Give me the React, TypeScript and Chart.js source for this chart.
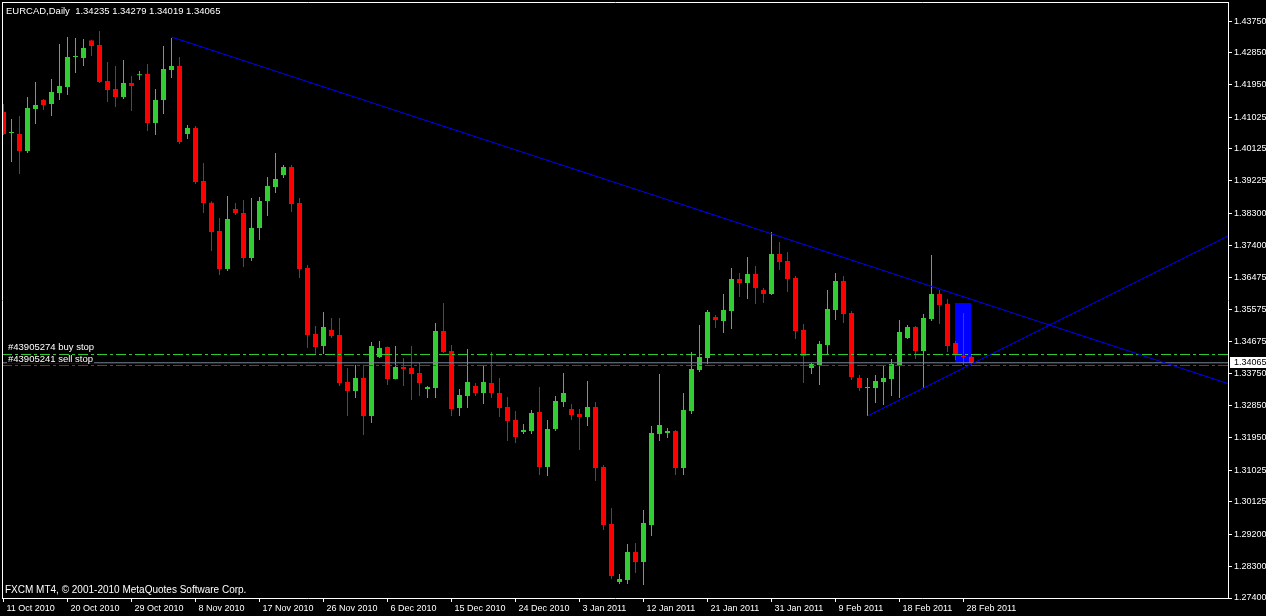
import React, { useEffect, useRef } from 'react';
import { Chart, registerables } from 'chart.js';

Chart.register(...registerables);

const chartTitle = 'EURCAD,Daily  1.34235 1.34279 1.34019 1.34065';
const footerText = 'FXCM MT4, \u00A9 2001-2010 MetaQuotes Software Corp.';

const openPrices = [
  1.41173, 1.40578, 1.40549, 1.40068, 1.41258, 1.41513, 1.41400, 1.41711, 1.41881, 1.42732,
  1.42703, 1.43200, 1.43072, 1.42052, 1.41825, 1.41598, 1.41995, 1.42215, 1.42250, 1.40861,
  1.41513, 1.42363, 1.42477, 1.40549, 1.40720, 1.39218, 1.38600, 1.37800, 1.36724, 1.38424,
  1.38311, 1.37035, 1.37886, 1.38651, 1.39047, 1.39387, 1.39614, 1.38594, 1.36752, 1.34881,
  1.34541, 1.34995, 1.34853, 1.33521, 1.33266, 1.33634, 1.32558, 1.34230, 1.34513, 1.33606,
  1.33946, 1.33918, 1.33776, 1.33323, 1.33351, 1.34967, 1.34400, 1.32784, 1.33124, 1.33408,
  1.33209, 1.33493, 1.33209, 1.32813, 1.32444, 1.32104, 1.32132, 1.32671, 1.31112, 1.32189,
  1.32954, 1.32756, 1.32614, 1.32529, 1.32813, 1.31112, 1.29497, 1.27853, 1.27910, 1.28703,
  1.28420, 1.29469, 1.32048, 1.32076, 1.32132, 1.31084, 1.32699, 1.33861, 1.34201, 1.35363,
  1.35250, 1.35533, 1.36440, 1.36327, 1.36582, 1.36128, 1.36015, 1.37149, 1.36950, 1.36468,
  1.34995, 1.33918, 1.34003, 1.34570, 1.35562, 1.36384, 1.35477, 1.33634, 1.33351, 1.33351,
  1.33521, 1.33606, 1.34003, 1.34768, 1.35080, 1.34400, 1.35306, 1.36015, 1.35732, 1.34626,
  1.34258, 1.34235,
];

const highPrices = [
  1.41400, 1.40975, 1.41060, 1.41598, 1.42023, 1.41540, 1.42108, 1.43100, 1.43298, 1.43270,
  1.43242, 1.43220, 1.43469, 1.42590, 1.42477, 1.42647, 1.42193, 1.42335, 1.42533, 1.41825,
  1.43043, 1.43270, 1.42732, 1.40805, 1.40776, 1.39728, 1.38640, 1.38169, 1.38792, 1.38594,
  1.38679, 1.38736, 1.38764, 1.39331, 1.40011, 1.39671, 1.39671, 1.38736, 1.36837, 1.35108,
  1.35505, 1.35335, 1.35335, 1.33918, 1.34003, 1.34003, 1.34655, 1.34683, 1.34530, 1.34541,
  1.34201, 1.34541, 1.34060, 1.33408, 1.35193, 1.35760, 1.34570, 1.33323, 1.34456, 1.33493,
  1.34003, 1.34371, 1.33634, 1.33096, 1.32699, 1.32331, 1.32727, 1.33379, 1.32444, 1.33124,
  1.33776, 1.32898, 1.32756, 1.33550, 1.32954, 1.31169, 1.29950, 1.28080, 1.28930, 1.28959,
  1.29894, 1.32274, 1.33748, 1.32218, 1.32160, 1.33209, 1.34371, 1.35137, 1.35562, 1.35420,
  1.36015, 1.36752, 1.36610, 1.37064, 1.36809, 1.36185, 1.37772, 1.37489, 1.37206, 1.36525,
  1.35165, 1.34060, 1.34683, 1.36128, 1.36610, 1.36525, 1.35533, 1.33720, 1.33634, 1.33720,
  1.33975, 1.34173, 1.35278, 1.35137, 1.35108, 1.35448, 1.37120, 1.36128, 1.35873, 1.34683,
  1.35477, 1.34279,
];

const lowPrices = [
  1.40521, 1.39756, 1.39416, 1.40011, 1.40833, 1.41230, 1.41060, 1.41513, 1.41655, 1.42278,
  1.42477, 1.42760, 1.41995, 1.41456, 1.41315, 1.41541, 1.41201, 1.42080, 1.40635, 1.40521,
  1.41116, 1.42137, 1.40266, 1.40408, 1.39133, 1.38311, 1.37234, 1.36554, 1.36667, 1.38254,
  1.36780, 1.36950, 1.37545, 1.38226, 1.38877, 1.39302, 1.38339, 1.36469, 1.34485, 1.34286,
  1.34315, 1.34768, 1.33408, 1.32558, 1.33068, 1.32019, 1.32359, 1.34200, 1.33436, 1.33590,
  1.33408, 1.33011, 1.33124, 1.33068, 1.33068, 1.34343, 1.32558, 1.32558, 1.32784, 1.33124,
  1.32898, 1.33068, 1.32529, 1.31849, 1.31792, 1.32048, 1.32048, 1.30886, 1.30857, 1.32132,
  1.32813, 1.32444, 1.31594, 1.32274, 1.30716, 1.29327, 1.27938, 1.27796, 1.27796, 1.28109,
  1.27768, 1.29157, 1.31849, 1.31934, 1.30886, 1.30886, 1.32614, 1.33805, 1.34031, 1.35051,
  1.34910, 1.35023, 1.35930, 1.35873, 1.35732, 1.35760, 1.35987, 1.36695, 1.36072, 1.34740,
  1.33493, 1.33748, 1.33436, 1.34315, 1.35278, 1.35193, 1.33578, 1.33266, 1.32558, 1.32926,
  1.32869, 1.33124, 1.33068, 1.34740, 1.34173, 1.33351, 1.35250, 1.35165, 1.34371, 1.34145,
  1.34003, 1.34019,
];

const closePrices = [
  1.40549, 1.40606, 1.40068, 1.41286, 1.41371, 1.41371, 1.41740, 1.41910, 1.42732, 1.42745,
  1.42987, 1.43043, 1.42023, 1.41796, 1.41598, 1.41995, 1.41910, 1.42225, 1.40861, 1.41513,
  1.42392, 1.42477, 1.40323, 1.40720, 1.39189, 1.38594, 1.37772, 1.36724, 1.38141, 1.38311,
  1.37035, 1.37886, 1.38651, 1.39076, 1.39274, 1.39614, 1.38566, 1.36724, 1.34853, 1.34513,
  1.35080, 1.34825, 1.33493, 1.33266, 1.33634, 1.32558, 1.34541, 1.34485, 1.33606, 1.33946,
  1.33890, 1.33748, 1.33493, 1.33379, 1.34967, 1.34371, 1.32756, 1.33153, 1.33521, 1.33209,
  1.33521, 1.33209, 1.32784, 1.32416, 1.31963, 1.32161, 1.32642, 1.31112, 1.32189, 1.32983,
  1.33209, 1.32586, 1.32529, 1.32813, 1.31084, 1.29469, 1.28023, 1.27938, 1.28703, 1.28420,
  1.29525, 1.32076, 1.32302, 1.32132, 1.31084, 1.32727, 1.33890, 1.34230, 1.35505, 1.35278,
  1.35562, 1.36440, 1.36327, 1.36582, 1.36185, 1.36015, 1.37149, 1.36922, 1.36440, 1.34967,
  1.34258, 1.34031, 1.34598, 1.35590, 1.36384, 1.35448, 1.33663, 1.33351, 1.33379, 1.33550,
  1.33634, 1.34031, 1.34938, 1.35080, 1.34400, 1.35335, 1.36015, 1.35703, 1.34541, 1.34286,
  1.34230, 1.34065,
];

const dateTickBars = [0, 8, 16, 24, 32, 40, 48, 56, 64, 72, 80, 88, 96, 104, 112, 120];
const dateTickLabels = [
  '11 Oct 2010', '20 Oct 2010', '29 Oct 2010', '8 Nov 2010', '17 Nov 2010', '26 Nov 2010',
  '6 Dec 2010', '15 Dec 2010', '24 Dec 2010', '3 Jan 2011', '12 Jan 2011', '21 Jan 2011',
  '31 Jan 2011', '9 Feb 2011', '18 Feb 2011', '28 Feb 2011',
];

const priceTicks = [
  1.4375, 1.4285, 1.4195, 1.41025, 1.40125, 1.39225, 1.383, 1.374, 1.36475, 1.35575,
  1.34675, 1.3375, 1.3285, 1.3195, 1.31025, 1.30125, 1.292, 1.283, 1.274,
];

const resistanceLine = [
  { x: 21, y: 1.43298 },
  { x: 153.0625, y: 1.33476 },
];
const supportLine = [
  { x: 108, y: 1.32558 },
  { x: 153.0625, y: 1.3766 },
];

const bidPrice = 1.34065;
const buyStopPrice = 1.343;
const sellStopPrice = 1.3399;
const buyStopLabel = '#43905274 buy stop';
const sellStopLabel = '#43905241 sell stop';

const boxStartBar = 119;
const boxEndBar = 121;
const boxLow = 1.34051;
const boxHigh = 1.3576;

const X_MIN = -0.1875;
const X_MAX = 153.0625;
const Y_MIN = 1.274;
const Y_MAX = 1.4429;

const BULL = '#32CD32';
const BEAR = '#FF0000';
const LINE_BLUE = '#0000FF';
const BID_GREY = '#778899';
const FONT_FAMILY = '"Liberation Sans", Arial, sans-serif';

const mtPlugin = {
  id: 'mt4Decor',
  beforeDraw(chart: any) {
    const { ctx, width, height } = chart;
    ctx.save();
    ctx.fillStyle = '#000000';
    ctx.fillRect(0, 0, width, height);
    ctx.restore();
  },
  beforeDatasetsDraw(chart: any) {
    const { ctx, chartArea, scales } = chart;
    const x = scales.x;
    const y = scales.y;
    ctx.save();
    ctx.beginPath();
    ctx.rect(chartArea.left, chartArea.top, chartArea.right - chartArea.left, chartArea.bottom - chartArea.top);
    ctx.clip();
    const x0 = Math.floor(x.getPixelForValue(boxStartBar));
    const x1 = Math.floor(x.getPixelForValue(boxEndBar));
    const y0 = Math.round(y.getPixelForValue(boxHigh));
    const y1 = Math.round(y.getPixelForValue(boxLow));
    ctx.fillStyle = LINE_BLUE;
    ctx.fillRect(x0, y0, x1 - x0, y1 - y0);
    ctx.restore();
  },
  afterDraw(chart: any) {
    const { ctx, chartArea, scales } = chart;
    const y = scales.y;
    ctx.save();
    // frame (left and top; right and bottom come from the axes)
    ctx.strokeStyle = '#FFFFFF';
    ctx.lineWidth = 1;
    ctx.beginPath();
    ctx.moveTo(chartArea.left, chartArea.top + 0.5);
    ctx.lineTo(chartArea.right + 1, chartArea.top + 0.5);
    ctx.moveTo(chartArea.left + 0.5, chartArea.top);
    ctx.lineTo(chartArea.left + 0.5, chartArea.bottom + 1);
    ctx.stroke();

    // title
    ctx.fillStyle = '#FFFFFF';
    ctx.textAlign = 'left';
    ctx.textBaseline = 'alphabetic';
    ctx.font = '9.5px ' + FONT_FAMILY;
    ctx.fillText(chartTitle, 6, 14);

    // order labels (text sits just above its line, with an opaque back)
    const drawOrderLabel = (text: string, price: number, lift: number) => {
      const ly = Math.round(y.getPixelForValue(price)) - lift;
      ctx.font = '9.5px ' + FONT_FAMILY;
      const w = ctx.measureText(text).width;
      ctx.fillStyle = '#000000';
      ctx.fillRect(7, ly - 7, w + 2, 8.5);
      ctx.fillStyle = '#FFFFFF';
      ctx.fillText(text, 8, ly);
    };
    drawOrderLabel(buyStopLabel, buyStopPrice, 5);
    drawOrderLabel(sellStopLabel, sellStopPrice, 3);

    // footer
    ctx.font = '10px ' + FONT_FAMILY;
    ctx.fillStyle = '#FFFFFF';
    ctx.fillText(footerText, 5, 593);

    // current bid box on the price axis
    const by = y.getPixelForValue(bidPrice);
    ctx.fillStyle = '#FFFFFF';
    ctx.fillRect(chartArea.right + 2, Math.round(by) - 6, 40, 11);
    ctx.fillStyle = '#000000';
    ctx.font = '9px ' + FONT_FAMILY;
    ctx.textBaseline = 'middle';
    ctx.fillText(bidPrice.toFixed(5), chartArea.right + 6, Math.round(by) - 0.5);
    ctx.restore();
  },
};

export default function App() {
  const canvasRef = useRef<HTMLCanvasElement | null>(null);

  useEffect(() => {
    const canvas = canvasRef.current;
    if (!canvas) return;
    const candleColors = openPrices.map((o, i) => (closePrices[i] >= o ? BULL : BEAR));
    const bodies = openPrices.map((o, i) => ({ x: i, y: [o, closePrices[i]] }));
    const wicks = lowPrices.map((l, i) => ({ x: i, y: [l, highPrices[i]] }));
    const hLine = (p: number) => [
      { x: X_MIN, y: p },
      { x: X_MAX, y: p },
    ];

    const chart = new Chart(canvas, {
      type: 'bar',
      data: {
        datasets: [
          {
            type: 'line',
            label: 'Resistance',
            data: resistanceLine,
            borderColor: LINE_BLUE,
            borderWidth: 1,
            pointRadius: 0,
            fill: false,
            tension: 0,
            order: 0,
          },
          {
            type: 'line',
            label: 'Support',
            data: supportLine,
            borderColor: LINE_BLUE,
            borderWidth: 1,
            pointRadius: 0,
            fill: false,
            tension: 0,
            order: 1,
          },
          {
            type: 'line',
            label: 'Buy stop',
            data: hLine(buyStopPrice),
            borderColor: BULL,
            borderWidth: 1,
            borderDash: [10, 3, 3, 3],
            pointRadius: 0,
            fill: false,
            order: 2,
          },
          {
            type: 'line',
            label: 'Sell stop',
            data: hLine(sellStopPrice),
            borderColor: BEAR,
            borderWidth: 1,
            borderDash: [10, 3, 3, 3],
            pointRadius: 0,
            fill: false,
            order: 3,
          },
          {
            type: 'line',
            label: 'Bid',
            data: hLine(bidPrice),
            borderColor: BID_GREY,
            borderWidth: 1,
            pointRadius: 0,
            fill: false,
            order: 4,
          },
          {
            type: 'bar',
            label: 'Body',
            data: bodies,
            backgroundColor: candleColors,
            borderWidth: 0,
            barThickness: 5,
            minBarLength: 1,
            grouped: false,
            inflateAmount: 0,
            order: 5,
          },
          {
            type: 'bar',
            label: 'Wick',
            data: wicks,
            backgroundColor: candleColors,
            borderWidth: 0,
            barThickness: 1,
            minBarLength: 1,
            grouped: false,
            inflateAmount: 0,
            order: 6,
          },
        ] as any,
      },
      options: {
        animation: false,
        responsive: false,
        devicePixelRatio: 1,
        events: [],
        layout: { padding: { left: 2, top: 2, right: 0, bottom: 0 } },
        plugins: {
          legend: { display: false },
          tooltip: { enabled: false },
        },
        scales: {
          x: {
            type: 'linear',
            position: 'bottom',
            min: X_MIN,
            max: X_MAX,
            offset: false,
            bounds: 'data',
            afterBuildTicks: (s: any) => {
              s.ticks = dateTickBars.map((v) => ({ value: v }));
            },
            afterFit: (s: any) => {
              s.height = 18;
              s.paddingLeft = 0;
              s.paddingRight = 0;
            },
            ticks: {
              color: '#FFFFFF',
              font: { family: FONT_FAMILY, size: 9 },
              align: 'start',
              labelOffset: 3,
              maxRotation: 0,
              minRotation: 0,
              autoSkip: false,
              padding: 1,
              callback: (_v: any, i: number) => dateTickLabels[i],
            },
            grid: {
              offset: false,
              drawOnChartArea: false,
              drawTicks: true,
              tickLength: 4,
              color: '#FFFFFF',
            },
            border: { display: true, color: '#FFFFFF', width: 1 },
          },
          y: {
            type: 'linear',
            position: 'right',
            min: Y_MIN,
            max: Y_MAX,
            bounds: 'data',
            afterBuildTicks: (s: any) => {
              s.ticks = priceTicks.map((v) => ({ value: v }));
            },
            afterFit: (s: any) => {
              s.width = 38;
              s.paddingTop = 0;
              s.paddingBottom = 0;
            },
            ticks: {
              color: '#FFFFFF',
              font: { family: FONT_FAMILY, size: 9 },
              padding: 2,
              autoSkip: false,
              callback: (v: any) => Number(v).toFixed(5),
            },
            grid: {
              drawOnChartArea: false,
              drawTicks: true,
              tickLength: 4,
              color: '#FFFFFF',
            },
            border: { display: true, color: '#FFFFFF', width: 1 },
          },
        },
      } as any,
      plugins: [mtPlugin],
    });

    return () => chart.destroy();
  }, []);

  return (
    <div
      style={{
        position: 'fixed',
        left: 0,
        top: 0,
        width: 1266,
        height: 616,
        background: '#000000',
        overflow: 'hidden',
      }}
    >
      <canvas ref={canvasRef} width={1266} height={616} style={{ display: 'block' }} />
    </div>
  );
}
